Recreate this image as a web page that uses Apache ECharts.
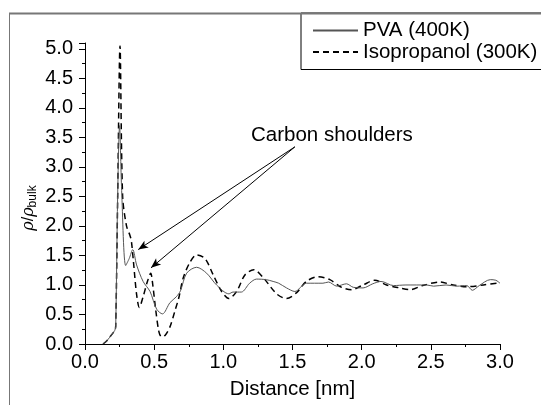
<!DOCTYPE html>
<html>
<head>
<meta charset="utf-8">
<script src="https://cdn.jsdelivr.net/npm/echarts@6/dist/echarts.min.js"></script>
<style>html,body{margin:0;padding:0;background:#fff;}#c{width:541px;height:405px;}</style>
</head>
<body>
<div id="c"></div>
<script>
// ---- data ----
const seriesNames = ['PVA (400K)', 'Isopropanol (300K)'];
const xTicks = [0.0, 0.5, 1.0, 1.5, 2.0, 2.5, 3.0];
const yTicks = [0.0, 0.5, 1.0, 1.5, 2.0, 2.5, 3.0, 3.5, 4.0, 4.5, 5.0];

const pvaX = [0.13, 0.16, 0.19, 0.215, 0.222, 0.236, 0.25, 0.265, 0.294, 0.32, 0.345, 0.373, 0.42, 0.47, 0.518, 0.56, 0.614, 0.66, 0.69, 0.735, 0.807, 0.879, 0.951, 1.04, 1.07, 1.13, 1.19, 1.24, 1.31, 1.36, 1.40, 1.457, 1.517, 1.60, 1.72, 1.76, 1.82, 1.89, 1.94, 2.01, 2.08, 2.14, 2.23, 2.32, 2.47, 2.52, 2.61, 2.69, 2.76, 2.80, 2.85, 2.93, 2.97, 3.0];
const pvaY = [0.0, 0.06, 0.15, 0.23, 0.3, 2.5, 3.7, 2.6, 1.33, 1.45, 1.6, 1.34, 1.06, 0.89, 0.59, 0.51, 0.70, 0.80, 0.90, 1.20, 1.30, 1.20, 1.00, 0.85, 0.88, 0.88, 1.03, 1.10, 1.09, 1.06, 1.03, 0.95, 0.89, 1.03, 1.03, 1.05, 0.98, 1.02, 0.96, 0.95, 1.02, 1.06, 0.99, 1.00, 1.00, 0.98, 1.00, 0.98, 0.99, 0.91, 0.99, 1.09, 1.08, 1.03];

const ipaX = [0.13, 0.16, 0.19, 0.215, 0.222, 0.236, 0.253, 0.272, 0.30, 0.325, 0.335, 0.35, 0.373, 0.393, 0.42, 0.45, 0.475, 0.49, 0.51, 0.535, 0.554, 0.58, 0.614, 0.65, 0.68, 0.71, 0.76, 0.807, 0.867, 0.927, 0.988, 1.04, 1.096, 1.156, 1.22, 1.29, 1.385, 1.457, 1.53, 1.60, 1.686, 1.77, 1.855, 1.927, 2.01, 2.095, 2.18, 2.276, 2.35, 2.44, 2.565, 2.66, 2.76, 2.88, 3.0];
const ipaY = [0.0, 0.06, 0.15, 0.23, 0.3, 2.45, 5.05, 2.5, 2.0, 1.84, 1.75, 1.4, 0.84, 0.62, 0.8, 1.05, 1.2, 1.0, 0.6, 0.2, 0.12, 0.15, 0.29, 0.56, 0.8, 1.12, 1.39, 1.51, 1.45, 1.17, 0.89, 0.77, 0.89, 1.17, 1.26, 1.12, 0.85, 0.77, 0.87, 1.06, 1.14, 1.09, 0.96, 0.92, 1.00, 1.08, 1.00, 0.95, 0.92, 0.99, 1.05, 1.00, 0.97, 1.00, 1.04];

// annotation arrows (data coordinates)
const arrowFrom = [1.517, 3.34];
const arrowTips = [[0.385, 1.60], [0.477, 1.29]];
const annotationText = 'Carbon shoulders';

// ---- build chart ----
const zip = (xs, ys) => xs.map((x, i) => [x, ys[i]]);
const FONT = 'Liberation Sans, Arial, sans-serif';
const FS = 20.5;

const chart = echarts.init(document.getElementById('c'), null, {renderer: 'canvas'});
chart.setOption({
  animation: false,
  backgroundColor: '#ffffff',
  grid: {left: 85, right: 41, top: 43, bottom: 54.5, containLabel: false},
  legend: {
    data: seriesNames,
    orient: 'vertical',
    left: 301, top: 13,
    padding: [7, 40, 7, 11],
    itemWidth: 45, itemHeight: 12, itemGap: 0.5,
    borderColor: '#000', borderWidth: 1,
    backgroundColor: '#fff',
    itemStyle: {opacity: 0},
    textStyle: {fontFamily: FONT, fontSize: FS, color: '#000', lineHeight: 19.5}
  },
  xAxis: {
    type: 'value', min: xTicks[0], max: xTicks[xTicks.length - 1], interval: 0.5,
    axisLine: {show: true, onZero: false, lineStyle: {color: '#000', width: 1}},
    axisTick: {show: true, inside: false, length: 6, lineStyle: {color: '#000'}},
    minorTick: {show: true, splitNumber: 2, length: 3, lineStyle: {color: '#000'}},
    splitLine: {show: false},
    axisLabel: {fontFamily: FONT, fontSize: 20, color: '#000', margin: 8,
      formatter: v => v.toFixed(1)},
    name: 'Distance [nm]', nameLocation: 'middle', nameGap: 35,
    nameTextStyle: {fontFamily: FONT, fontSize: FS, color: '#000'}
  },
  yAxis: {
    type: 'value', min: yTicks[0], max: 5.1, interval: 0.5,
    axisLine: {show: true, onZero: false, lineStyle: {color: '#000', width: 1}},
    axisTick: {show: true, inside: false, length: 6, lineStyle: {color: '#000'}},
    minorTick: {show: true, splitNumber: 2, length: 3, lineStyle: {color: '#000'}},
    splitLine: {show: false},
    axisLabel: {fontFamily: FONT, fontSize: 20, color: '#000', margin: 12, showMaxLabel: false,
      formatter: v => (yTicks.indexOf(Math.round(v * 10) / 10) >= 0 ? v.toFixed(1) : '')}
  },
  graphic: [
    {type: 'line', shape: {x1: 9, y1: 13.5, x2: 541, y2: 13.5}, style: {stroke: '#777', lineWidth: 2}, z: 100},
    {type: 'line', shape: {x1: 9.5, y1: 13, x2: 9.5, y2: 405}, style: {stroke: '#777', lineWidth: 1}, z: 100},
    {type: 'text', left: 251, top: 125, style: {text: annotationText, font: FS + 'px ' + FONT, fill: '#000'}},
    {type: 'text', x: 29, y: 208, rotation: Math.PI / 2,
      style: {
        text: '{r|ρ}{n|/}{r|ρ}{s|bulk}', align: 'center', verticalAlign: 'middle',
        rich: {
          r: {fontFamily: 'DejaVu Serif, serif', fontStyle: 'italic', fontSize: 16, fill: '#000', lineHeight: 20},
          n: {fontFamily: FONT, fontSize: 16, fill: '#000', lineHeight: 20},
          s: {fontFamily: FONT, fontSize: 12, fill: '#000', lineHeight: 12, verticalAlign: 'bottom'}
        }
      }}
  ],
  series: [
    {
      name: seriesNames[0], type: 'line', data: zip(pvaX, pvaY),
      symbol: 'none', smooth: 0.3,
      lineStyle: {color: '#555', width: 1},
      itemStyle: {color: '#555'},
      z: 3,
      markLine: {
        silent: true, animation: false,
        symbol: ['none', 'arrow'], symbolSize: 9,
        label: {show: false},
        lineStyle: {color: '#000', width: 1, type: 'solid'},
        itemStyle: {color: '#000'},
        data: arrowTips.map(t => [{coord: arrowFrom, symbol: 'none'}, {coord: t, symbol: 'arrow', symbolSize: [6, 10]}])
      }
    },
    {
      name: seriesNames[1], type: 'line', data: zip(ipaX, ipaY),
      symbol: 'none', smooth: 0.3,
      lineStyle: {color: '#000', width: 1.5, type: [6, 4]},
      itemStyle: {color: '#000'},
      z: 2
    }
  ]
});
</script>
</body>
</html>
